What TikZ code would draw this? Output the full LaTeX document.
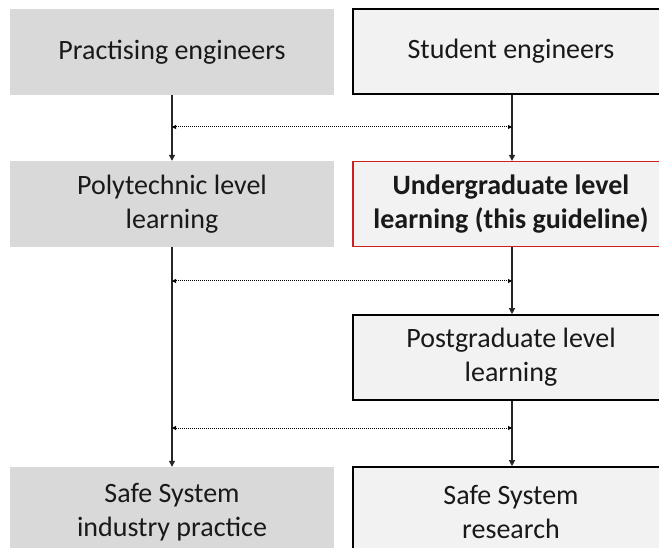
\documentclass[tikz,border=0pt]{standalone}
\usepackage{fontspec}
\setmainfont{Carlito}
\usetikzlibrary{arrows.meta}
\definecolor{boxgrey}{HTML}{D9D9D9}
\definecolor{boxlight}{HTML}{F2F2F2}
\definecolor{guidered}{HTML}{D01E1E}
\begin{document}
\begin{tikzpicture}[x=1pt,y=-1pt,
  every node/.style={font=\fontsize{28}{34}\selectfont, text=black!90, align=center, inner sep=0pt},
  leftbox/.style={fill=boxgrey, minimum width=324, minimum height=86},
  rightbox/.style={fill=boxlight, draw=black, line width=1.6pt, minimum width=316, minimum height=85},
  flow/.style={draw=black!85, line width=1.1pt, -{Triangle[length=6pt,width=6pt]}},
  link/.style={draw=black, line width=1pt, dash pattern=on 1pt off 1pt,
    {Triangle[length=4pt,width=4pt]}-{Triangle[length=4pt,width=4pt]}}]
\useasboundingbox (0,0) rectangle (659,548);
\fill[white] (0,0) rectangle (659,548);

% column axes
\coordinate (cl) at (172,0);
\coordinate (cr) at (512,0);

% left column
\node[leftbox] (prac) at (172,52) {Practising engineers};
\node[leftbox] (poly) at (172,204) {Polytechnic level\\learning};
\node[leftbox, minimum height=90] (ind) at (172,512) {Safe System\\industry practice};

% right column
\node[rightbox] (stud) at (511,51.5) {Student engineers};
\node[rightbox, draw=guidered, line width=1.3pt, font=\fontsize{28}{34}\selectfont\bfseries] (under) at (511,204) {Undergraduate level\\learning (this guideline)};
\node[rightbox] (post) at (511,357.5) {Postgraduate level\\learning};
\node[rightbox, minimum height=90] (res) at (511,512) {Safe System\\research};

% progression arrows
\draw[flow] (prac.south -| cl) -- (poly.north -| cl);
\draw[flow] (poly.south -| cl) -- (ind.north -| cl);
\draw[flow] (stud.south -| cr) -- (under.north -| cr);
\draw[flow] (under.south -| cr) -- (post.north -| cr);
\draw[flow] (post.south -| cr) -- (res.north -| cr);

% cross links between the columns
\coordinate (a1) at (172,127);  \coordinate (b1) at (512,127);
\coordinate (a2) at (172,281);  \coordinate (b2) at (512,281);
\coordinate (a3) at (172,428);  \coordinate (b3) at (512,428);
\draw[link] (a1) -- (b1);
\draw[link] (a2) -- (b2);
\draw[link] (a3) -- (b3);
\end{tikzpicture}
\end{document}
